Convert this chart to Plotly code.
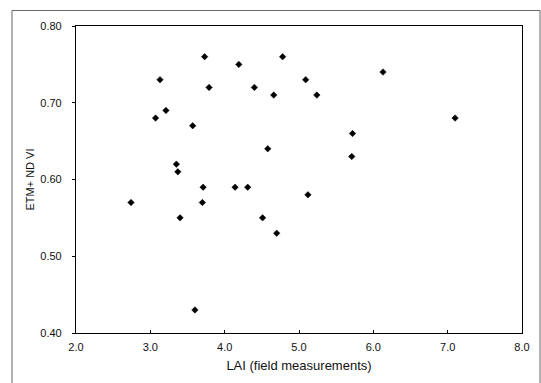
import plotly.graph_objects as go

lai = [2.74, 3.07, 3.13, 3.21, 3.35, 3.37, 3.40, 3.57, 3.60, 3.70, 3.71, 3.73, 3.79,
       4.14, 4.19, 4.31, 4.40, 4.51, 4.58, 4.66, 4.70, 4.78, 5.09, 5.12, 5.24,
       5.71, 5.72, 6.13, 7.10]
ndvi = [0.57, 0.68, 0.73, 0.69, 0.62, 0.61, 0.55, 0.67, 0.43, 0.57, 0.59, 0.76, 0.72,
        0.59, 0.75, 0.59, 0.72, 0.55, 0.64, 0.71, 0.53, 0.76, 0.73, 0.58, 0.71,
        0.63, 0.66, 0.74, 0.68]

x_ticks = [2.0, 3.0, 4.0, 5.0, 6.0, 7.0, 8.0]
y_ticks = [0.40, 0.50, 0.60, 0.70, 0.80]

FONT = "Liberation Sans, Arial, sans-serif"

fig = go.Figure(go.Scatter(
    x=lai, y=ndvi, mode="markers",
    marker=dict(symbol="diamond", size=5, color="black",
                line=dict(color="black", width=0.5)),
    showlegend=False,
))

fig.update_layout(
    width=541, height=383,
    margin=dict(l=76, r=19, t=26, b=50),
    paper_bgcolor="white", plot_bgcolor="white",
    font=dict(family=FONT, color="#111"),
    shapes=[dict(type="rect", xref="paper", yref="paper",
                 x0=-0.1435, x1=1.0404, y0=-0.3, y1=1.0505,
                 line=dict(color="#666", width=1), layer="below")],
)
fig.update_xaxes(
    range=[2.0, 8.0], tickvals=x_ticks, ticktext=[f"{v:.1f}" for v in x_ticks],
    showgrid=False, zeroline=False, showline=True, linecolor="black", linewidth=1.2,
    mirror=True, ticks="inside", ticklen=3, tickcolor="black",
    tickfont=dict(size=11, family=FONT), ticklabelstandoff=4,
    title=dict(text="LAI (field measurements)", font=dict(size=13, family=FONT), standoff=8),
)
fig.update_yaxes(
    range=[0.40, 0.80], tickvals=y_ticks, ticktext=[f"{v:.2f}" for v in y_ticks],
    showgrid=False, zeroline=False, showline=True, linecolor="black", linewidth=1.2,
    mirror=True, ticks="outside", ticklen=3, tickcolor="black",
    tickfont=dict(size=11, family=FONT), ticklabelstandoff=8,
    title=dict(text="ETM+ ND VI", font=dict(size=11, family=FONT), standoff=3),
)

fig.write_html("out.html")
